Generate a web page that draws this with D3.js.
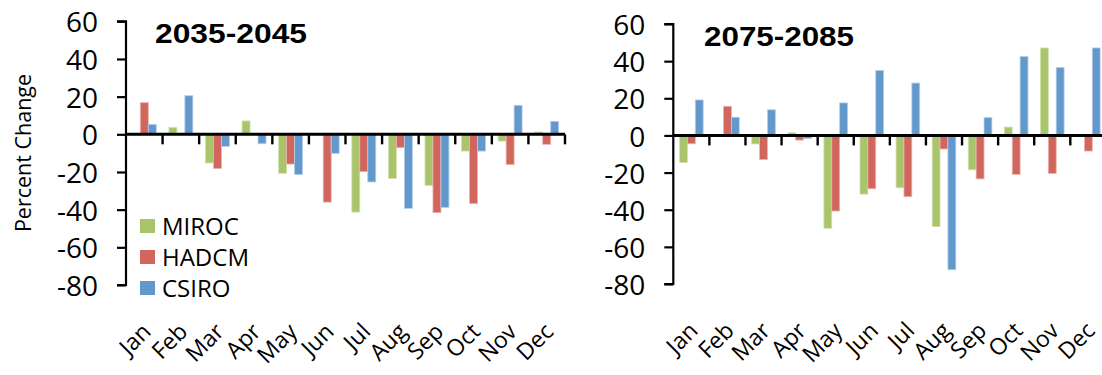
<!DOCTYPE html>
<html>
<head>
<meta charset="utf-8">
<script src="https://cdn.jsdelivr.net/npm/d3@7"></script>
<style>
  html, body { margin: 0; padding: 0; background: #fff; }
  svg { display: block; }
</style>
</head>
<body>
<svg id="chart" width="1102" height="375"></svg>
<script>
// ---- data ----
const months = ["Jan","Feb","Mar","Apr","May","Jun","Jul","Aug","Sep","Oct","Nov","Dec"];
const seriesNames = ["MIROC","HADCM","CSIRO"];
const yTicks = [60,40,20,0,-20,-40,-60,-80];

const titleA = "2035-2045";
const mirocA = [-0.5, 3.7, -15.2, 7.1, -20.7, -0.3, -41.3, -23.4, -27.1, -8.9, -3.6, 1.2];
const hadcmA = [16.8, 0, -18.2, 0, -15.8, -36.0, -19.8, -7.1, -41.6, -36.8, -16.1, -5.3];
const csiroA = [5.3, 20.5, -6.4, -5.0, -21.4, -10.1, -25.3, -39.3, -38.8, -8.9, 15.4, 6.9];

const titleB = "2075-2085";
const mirocB = [-14.6, 0, -4.6, 1.4, -50.0, -31.6, -28.2, -49.1, -18.5, 4.5, 47.1, 0];
const hadcmB = [-4.5, 15.7, -13.0, -2.5, -40.7, -28.7, -33.0, -7.3, -23.4, -21.0, -20.5, -8.4];
const csiroB = [19.1, 9.8, 13.8, -1.6, 17.5, 35.0, 28.2, -72.3, 9.6, 42.5, 36.6, 47.1];

const yLabel = "Percent Change";

// ---- style ----
const colors = { MIROC: "#A9C46B", HADCM: "#D0665E", CSIRO: "#6398CD" };
const strokes = { MIROC: "#D2E2AE", HADCM: "#EBB3AE", CSIRO: "#B5CFEA" };

const svg = d3.select("#chart");

function panel(opts) {
  const { x0, x1, yTop, yBot, title, data, titleX, titleW, legend, ylab } = opts;
  const g = svg.append("g");

  const x = d3.scaleBand().domain(months).range([x0, x1]).padding(0);
  const xs = d3.scaleBand().domain(seriesNames).range([0, x.bandwidth()])
    .paddingInner(0).paddingOuter(0.79);
  const y = d3.scaleLinear().domain([-80, 60]).range([yBot, yTop]);

  // bars
  seriesNames.forEach((s, si) => {
    g.selectAll(null).data(data[si]).enter().append("rect")
      .attr("x", (d, i) => x(months[i]) + xs(s))
      .attr("width", xs.bandwidth())
      .attr("y", d => Math.min(y(d), y(0)))
      .attr("height", d => Math.abs(y(d) - y(0)))
      .attr("fill", colors[s])
      .attr("stroke", strokes[s])
      .attr("stroke-width", 0.8);
  });

  // y axis
  const yAxis = d3.axisLeft(y).tickValues(yTicks).tickSize(9).tickPadding(19)
    .tickFormat(d => String(d));
  const ya = g.append("g").attr("transform", `translate(${x0},0)`).call(yAxis);
  ya.select(".domain").attr("stroke", "#000").attr("stroke-width", 2.2)
    .attr("d", `M-9,${yTop}H0V${yBot}H-9`);
  ya.selectAll(".tick line").attr("stroke", "#000").attr("stroke-width", 2.2);
  ya.selectAll(".tick text")
    .attr("font-family", "'Open Sans', sans-serif")
    .attr("font-size", 28).attr("fill", "#000").attr("dy", "0.38em");

  // x axis at zero
  const zx = g.append("g").attr("transform", `translate(0,${y(0)})`);
  zx.append("line").attr("x1", x0).attr("x2", x1).attr("y1", 0).attr("y2", 0)
    .attr("stroke", "#000").attr("stroke-width", 3);
  zx.selectAll(null).data(months.slice(1).concat(["end"])).enter().append("line")
    .attr("x1", (d, i) => x0 + (i + 1) * x.bandwidth())
    .attr("x2", (d, i) => x0 + (i + 1) * x.bandwidth())
    .attr("y1", 0).attr("y2", 10)
    .attr("stroke", "#000").attr("stroke-width", 2.4);

  // category labels (low position)
  g.selectAll(null).data(months).enter().append("text")
    .attr("transform", d => `translate(${x(d) + x.bandwidth() / 2 + 8},${yBot + 48}) rotate(-45)`)
    .attr("text-anchor", "end")
    .attr("font-family", "'Open Sans', sans-serif")
    .attr("font-size", 23).attr("fill", "#000")
    .text(d => d);

  // title
  g.append("text")
    .attr("x", titleX).attr("y", yTop + 22)
    .attr("font-family", "'Liberation Sans', Arial, sans-serif")
    .attr("font-weight", "bold").attr("font-size", 28)
    .attr("textLength", titleW).attr("lengthAdjust", "spacingAndGlyphs")
    .attr("fill", "#000").text(title);

  if (legend) {
    const lg = g.append("g");
    seriesNames.forEach((s, i) => {
      const cy = 226 + i * 31;
      lg.append("rect").attr("x", 140).attr("y", cy - 7).attr("width", 15).attr("height", 14)
        .attr("fill", colors[s]);
      lg.append("text").attr("x", 162).attr("y", cy + 9)
        .attr("font-family", "'Open Sans', sans-serif").attr("font-size", 24)
        .attr("fill", "#000").text(s);
    });
  }
  if (ylab) {
    g.append("text")
      .attr("transform", `translate(31,153) rotate(-90)`)
      .attr("text-anchor", "middle")
      .attr("font-family", "'Open Sans', sans-serif").attr("font-size", 21.5)
      .attr("fill", "#000").text(yLabel);
  }
}

panel({ x0: 126, x1: 565, yTop: 21.3, yBot: 285, title: titleA,
  data: [mirocA, hadcmA, csiroA], titleX: 155, titleW: 152, legend: true, ylab: true });
panel({ x0: 673.3, x1: 1106.4, yTop: 24, yBot: 284, title: titleB,
  data: [mirocB, hadcmB, csiroB], titleX: 704, titleW: 150, legend: false, ylab: false });
</script>
</body>
</html>
